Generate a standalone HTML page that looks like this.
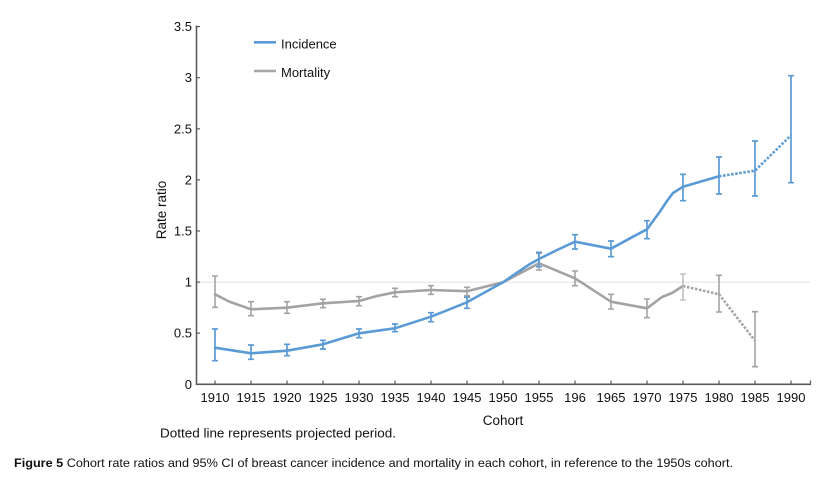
<!DOCTYPE html>
<html>
<head>
<meta charset="utf-8">
<style>
html,body{margin:0;padding:0;background:#fff;}
svg{display:block;}
text{font-family:"Liberation Sans",Arial,sans-serif;fill:#111;}
</style>
</head>
<body>
<svg width="823" height="485" viewBox="0 0 823 485" xmlns="http://www.w3.org/2000/svg">
  <!-- reference line at 1 -->
  <line x1="198" y1="282.2" x2="810" y2="282.2" stroke="#e6e6e6" stroke-width="1.2"/>

  <!-- axes -->
  <line x1="196.5" y1="25.5" x2="196.5" y2="385" stroke="#5a5a5a" stroke-width="1.6"/>
  <line x1="196" y1="384.3" x2="811" y2="384.3" stroke="#5a5a5a" stroke-width="1.6"/>
  <!-- y ticks (inward) -->
  <g stroke="#5a5a5a" stroke-width="1.2">
    <line x1="196.5" y1="26.6" x2="200" y2="26.6"/>
    <line x1="196.5" y1="77.7" x2="200" y2="77.7"/>
    <line x1="196.5" y1="128.8" x2="200" y2="128.8"/>
    <line x1="196.5" y1="179.9" x2="200" y2="179.9"/>
    <line x1="196.5" y1="231" x2="200" y2="231"/>
    <line x1="196.5" y1="282.1" x2="200" y2="282.1"/>
    <line x1="196.5" y1="333.2" x2="200" y2="333.2"/>
  </g>
  <!-- x ticks (inward) -->
  <g stroke="#5a5a5a" stroke-width="1.2">
    <line x1="215" y1="384" x2="215" y2="380.5"/>
    <line x1="251" y1="384" x2="251" y2="380.5"/>
    <line x1="287" y1="384" x2="287" y2="380.5"/>
    <line x1="323" y1="384" x2="323" y2="380.5"/>
    <line x1="359" y1="384" x2="359" y2="380.5"/>
    <line x1="395" y1="384" x2="395" y2="380.5"/>
    <line x1="431" y1="384" x2="431" y2="380.5"/>
    <line x1="467" y1="384" x2="467" y2="380.5"/>
    <line x1="503" y1="384" x2="503" y2="380.5"/>
    <line x1="539" y1="384" x2="539" y2="380.5"/>
    <line x1="575" y1="384" x2="575" y2="380.5"/>
    <line x1="611" y1="384" x2="611" y2="380.5"/>
    <line x1="647" y1="384" x2="647" y2="380.5"/>
    <line x1="683" y1="384" x2="683" y2="380.5"/>
    <line x1="719" y1="384" x2="719" y2="380.5"/>
    <line x1="755" y1="384" x2="755" y2="380.5"/>
    <line x1="791" y1="384" x2="791" y2="380.5"/>
    <line x1="810.5" y1="384" x2="810.5" y2="380.5"/>
  </g>

  <!-- y labels -->
  <g font-size="13" text-anchor="end">
    <text x="192" y="31">3.5</text>
    <text x="192" y="82.2">3</text>
    <text x="192" y="133.3">2.5</text>
    <text x="192" y="184.4">2</text>
    <text x="192" y="235.5">1.5</text>
    <text x="192" y="286.6">1</text>
    <text x="192" y="337.7">0.5</text>
    <text x="192" y="388.8">0</text>
  </g>
  <!-- x labels -->
  <g font-size="13" text-anchor="middle">
    <text x="215" y="402">1910</text>
    <text x="251" y="402">1915</text>
    <text x="287" y="402">1920</text>
    <text x="323" y="402">1925</text>
    <text x="359" y="402">1930</text>
    <text x="395" y="402">1935</text>
    <text x="431" y="402">1940</text>
    <text x="467" y="402">1945</text>
    <text x="503" y="402">1950</text>
    <text x="539" y="402">1955</text>
    <text x="575" y="402">196</text>
    <text x="611" y="402">1965</text>
    <text x="647" y="402">1970</text>
    <text x="683" y="402">1975</text>
    <text x="719" y="402">1980</text>
    <text x="755" y="402">1985</text>
    <text x="791" y="402">1990</text>
  </g>

  <text x="503" y="425" font-size="13.5" text-anchor="middle">Cohort</text>
  <text transform="translate(166,210) rotate(-90)" font-size="13.5" text-anchor="middle">Rate ratio</text>

  <!-- legend -->
  <line x1="254" y1="42.3" x2="276" y2="42.3" stroke="#5b9bd5" stroke-width="2.6"/>
  <text x="281" y="48.5" font-size="13">Incidence</text>
  <line x1="254" y1="71" x2="276" y2="71" stroke="#a5a5a5" stroke-width="2.6"/>
  <text x="281" y="77.2" font-size="13">Mortality</text>

  <!-- Mortality series -->
  <g fill="none" stroke="#a3a3a3" stroke-width="2.6" stroke-linejoin="round" stroke-linecap="round">
    <polyline points="215,294.3 229,301.5 251,309.3 287,307.7 323,303.3 359,301 377,296 395,292.3 431,290 467,291.2 503,282.3 539,263.3 575,278.3 611,301.7 647,308.3 662,297 672,293 683,286"/>
  </g>
  <polyline points="683,286 719,294.3 755,340.7" fill="none" stroke="#a3a3a3" stroke-width="2.6" stroke-dasharray="2.5,1.6"/>
  <g stroke="#a3a3a3" stroke-width="1.6">
    <path d="M215,276V307.3M212,276h6M212,307.3h6"/>
    <path d="M251,301.7V315.7M248,301.7h6M248,315.7h6"/>
    <path d="M287,301.7V313.3M284,301.7h6M284,313.3h6"/>
    <path d="M323,299.3V307.7M320,299.3h6M320,307.7h6"/>
    <path d="M359,296.7V305.7M356,296.7h6M356,305.7h6"/>
    <path d="M395,288.3V296.7M392,288.3h6M392,296.7h6"/>
    <path d="M431,285.7V294.3M428,285.7h6M428,294.3h6"/>
    <path d="M467,287.3V295.7M464,287.3h6M464,295.7h6"/>
    <path d="M539,253.3V270M536,253.3h6M536,270h6"/>
    <path d="M575,271V285.7M572,271h6M572,285.7h6"/>
    <path d="M611,294.3V309M608,294.3h6M608,309h6"/>
    <path d="M647,299V317.7M644,299h6M644,317.7h6"/>
    <path d="M719,275.3V312M716,275.3h6M716,312h6"/>
    <path d="M755,311.7V366.7M752,311.7h6M752,366.7h6"/>
  </g>
  <g stroke="#c0c0c0" stroke-width="1.6">
    <path d="M683,274V300M680,274h6M680,300h6"/>
  </g>

  <!-- Incidence series -->
  <g fill="none" stroke="#5b9bd5" stroke-width="2.6" stroke-linejoin="round" stroke-linecap="round">
    <polyline points="215,347.7 251,353.3 287,350.7 323,344.3 359,333.3 395,328.3 431,316.7 467,302.3 503,282.3 521,270 530,264 539,259 556,250.5 575,241.7 611,248.7 633,236.7 647,229.3 660,211.5 667,201 673,193 683,186.7 719,176.3"/>
  </g>
  <polyline points="719,176.3 755,170.7 791,135.3" fill="none" stroke="#5b9bd5" stroke-width="2.6" stroke-dasharray="2.5,1.6"/>
  <g stroke="#5b9bd5" stroke-width="1.7">
    <path d="M215,329V360.7M212,329h6M212,360.7h6"/>
    <path d="M251,345V359.3M248,345h6M248,359.3h6"/>
    <path d="M287,344.3V355.7M284,344.3h6M284,355.7h6"/>
    <path d="M323,340.3V349M320,340.3h6M320,349h6"/>
    <path d="M359,329V337.7M356,329h6M356,337.7h6"/>
    <path d="M395,324V331.7M392,324h6M392,331.7h6"/>
    <path d="M431,312.7V321.7M428,312.7h6M428,321.7h6"/>
    <path d="M467,297.3V308.3M464,297.3h6M464,308.3h6"/>
    <path d="M539,252.3V266.7M536,252.3h6M536,266.7h6"/>
    <path d="M575,234.7V249M572,234.7h6M572,249h6"/>
    <path d="M611,241V256.7M608,241h6M608,256.7h6"/>
    <path d="M647,220.7V238.7M644,220.7h6M644,238.7h6"/>
    <path d="M683,174.3V200.7M680,174.3h6M680,200.7h6"/>
    <path d="M719,157V194M716,157h6M716,194h6"/>
    <path d="M755,141V196M752,141h6M752,196h6"/>
    <path d="M791,75.7V182.7M788,75.7h6M788,182.7h6"/>
  </g>

  <!-- notes -->
  <text x="160" y="437.5" font-size="13" textLength="236" lengthAdjust="spacingAndGlyphs">Dotted line represents projected period.</text>
  <text x="14" y="467" font-size="12.3" textLength="719" lengthAdjust="spacingAndGlyphs"><tspan font-weight="bold">Figure 5</tspan> Cohort rate ratios and 95% CI of breast cancer incidence and mortality in each cohort, in reference to the 1950s cohort.</text>
</svg>
</body>
</html>
